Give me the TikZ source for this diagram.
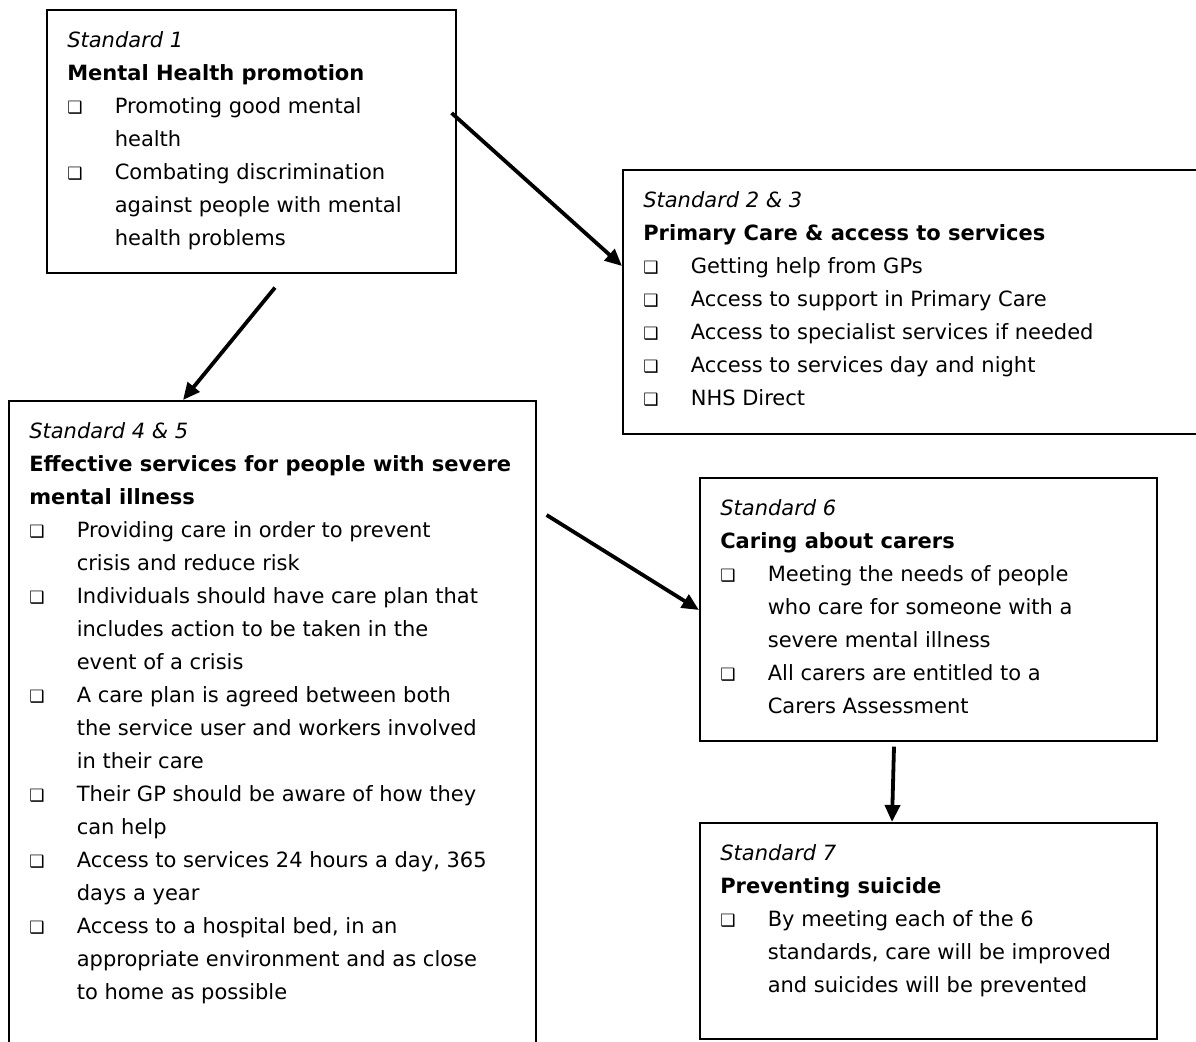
\documentclass[tikz,border=0pt]{standalone}
\usepackage{fontspec}
\setmainfont{DejaVu Sans}
\usetikzlibrary{arrows.meta}
\setlength{\parskip}{0pt}
\tikzset{
	x=1pt, y=-1pt, % one unit is one pixel of the page
	standard/.style={draw, line width=1.6pt, anchor=north west, inner xsep=20.5pt, inner ysep=0pt, font=\fontsize{21}{33}\selectfont}, % sets the look of each standard box
	flow/.style={line width=3.8pt, -{Triangle[length=17pt,width=15pt]}}, % arrows between the standards
}
% the bullet and one bullet item
\newcommand{\sqbox}{\makebox[47.5pt][l]{\fontsize{17}{17}\selectfont ❑}}
\newcommand{\stditem}[1]{\par\hangindent=47.5pt\hangafter=1\noindent\sqbox #1\par}
% title lines of a box
\newcommand{\stdhead}[2]{\noindent\rule{0pt}{37.5pt}\textit{#1}\par\noindent\textbf{#2}\par}
\newcommand{\stdbody}[3]{\parbox[t][#2][t]{#1}{#3}}

\begin{document}
\begin{tikzpicture}
	\useasboundingbox (0,0) rectangle (1196,1041);
	\clip (0,0) rectangle (1196,1041);

	\node[standard] (s1) at (46,9) {\stdbody{368pt}{263pt}{%
		\stdhead{Standard 1}{Mental Health promotion}
		\stditem{Promoting good mental\\health}
		\stditem{Combating discrimination\\against people with mental\\health problems}}};
	\node[standard] (s2) at (622,169) {\stdbody{560pt}{264pt}{%
		\stdhead{Standard 2 \& 3}{Primary Care \& access to services}
		\stditem{Getting help from GPs}
		\stditem{Access to support in Primary Care}
		\stditem{Access to specialist services if needed}
		\stditem{Access to services day and night}
		\stditem{NHS Direct}}};
	\node[standard] (s3) at (8,400) {\stdbody{486pt}{700pt}{%
		\stdhead{Standard 4 \& 5}{Effective services for people with severe\\mental illness}
		\stditem{Providing care in order to prevent\\crisis and reduce risk}
		\stditem{Individuals should have care plan that\\includes action to be taken in the\\event of a crisis}
		\stditem{A care plan is agreed between both\\the service user and workers involved\\in their care}
		\stditem{Their GP should be aware of how they\\can help}
		\stditem{Access to services 24 hours a day, 365\\days a year}
		\stditem{Access to a hospital bed, in an\\appropriate environment and as close\\to home as possible}}};
	\node[standard] (s4) at (699,477) {\stdbody{416pt}{263pt}{%
		\stdhead{Standard 6}{Caring about carers}
		\stditem{Meeting the needs of people\\who care for someone with a\\severe mental illness}
		\stditem{All carers are entitled to a\\Carers Assessment}}};
	\node[standard] (s5) at (699,822) {\stdbody{416pt}{216pt}{%
		\stdhead{Standard 7}{Preventing suicide}
		\stditem{By meeting each of the 6\\standards, care will be improved\\and suicides will be prevented}}};

	\draw[flow] ([xshift=-5pt,yshift=-104pt]s1.north east) -- ([yshift=-97pt]s2.north west);
	\draw[flow] ([xshift=229pt,yshift=-14pt]s1.south west) -- ([xshift=175pt]s3.north west);
	\draw[flow] ([xshift=10pt,yshift=-115pt]s3.north east) -- ([yshift=-133pt]s4.north west);
	\draw[flow] ([xshift=195pt,yshift=-5pt]s4.south west) -- ([xshift=193pt]s5.north west);
\end{tikzpicture}
\end{document}
